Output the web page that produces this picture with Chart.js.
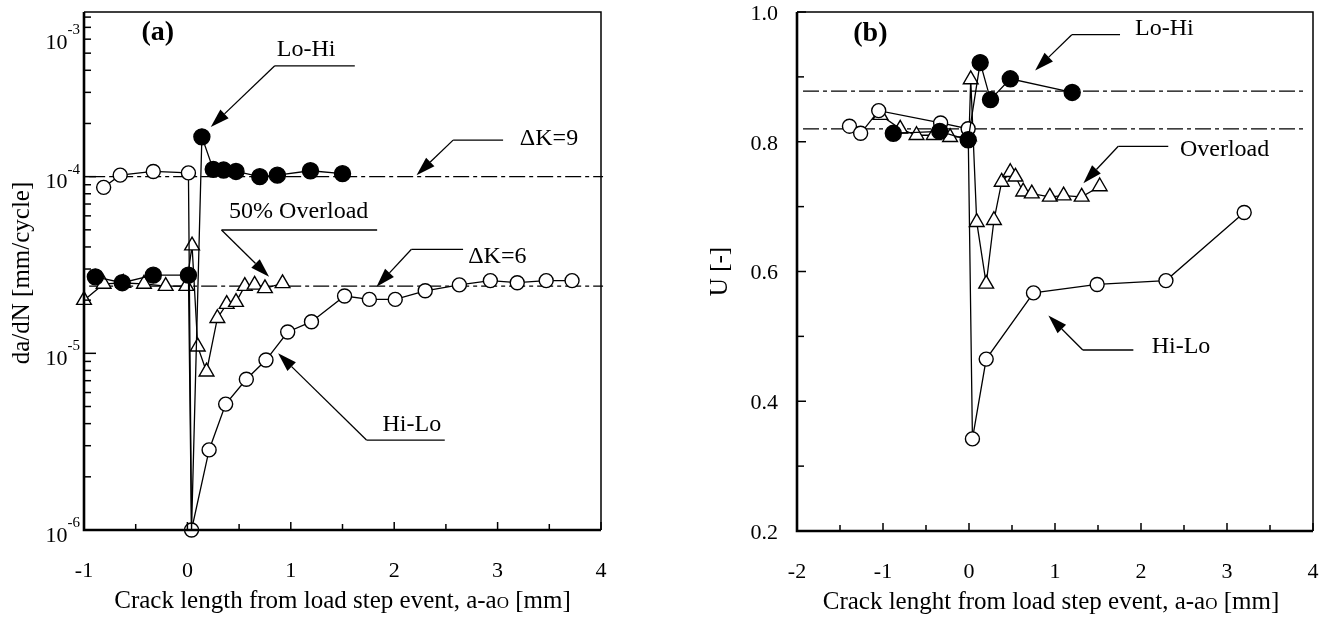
<!DOCTYPE html>
<html>
<head>
<meta charset="utf-8">
<script src="https://cdn.jsdelivr.net/npm/chart.js@4.4.0/dist/chart.umd.min.js"></script>
<style>
html, body { margin: 0; padding: 0; background: #fff; }
#wrap { position: relative; width: 1330px; height: 618px; overflow: hidden; }
canvas { position: absolute; top: 0; }
#ca { left: 0; }
#cb { left: 665px; }
</style>
</head>
<body>
<div id="wrap">
  <canvas id="ca" width="665" height="618"></canvas>
  <canvas id="cb" width="665" height="618"></canvas>
</div>
<script>
// ---- panel (a): da/dN vs crack length ----
var hiLoA_x = [-0.81, -0.65, -0.33, 0.01, 0.04, 0.21, 0.37, 0.57, 0.76, 0.97, 1.20, 1.52, 1.76, 2.01, 2.30, 2.63, 2.93, 3.19, 3.47, 3.72];
var hiLoA_y = [8.7e-5, 1.02e-4, 1.07e-4, 1.05e-4, 1.0e-6, 2.84e-6, 5.16e-6, 7.13e-6, 9.16e-6, 1.32e-5, 1.51e-5, 2.11e-5, 2.02e-5, 2.02e-5, 2.26e-5, 2.44e-5, 2.58e-5, 2.51e-5, 2.58e-5, 2.58e-5];
// the Lo-Hi trace dips to the axis at the step before the peak (no marker there)
var loHiA_x = [-0.89, -0.63, -0.33, 0.01, 0.04, 0.14, 0.25, 0.35, 0.47, 0.70, 0.87, 1.19, 1.50];
var loHiA_y = [2.71e-5, 2.51e-5, 2.77e-5, 2.77e-5, 1.0e-6, 1.68e-4, 1.10e-4, 1.09e-4, 1.07e-4, 1.0e-4, 1.02e-4, 1.08e-4, 1.04e-4];
var overA_x = [-1.0, -0.81, -0.62, -0.42, -0.21, -0.01, 0.045, 0.10, 0.185, 0.29, 0.38, 0.47, 0.555, 0.65, 0.75, 0.92];
var overA_y = [2.0e-5, 2.47e-5, 2.50e-5, 2.47e-5, 2.40e-5, 2.40e-5, 4.07e-5, 1.09e-5, 7.87e-6, 1.58e-5, 1.90e-5, 1.95e-5, 2.40e-5, 2.44e-5, 2.33e-5, 2.49e-5];
var refA_x = [-0.95, 4.02];
var dK9_y = [1.0e-4, 1.0e-4];
var dK6_y = [2.4e-5, 2.4e-5];
var xMajorA = [-1, 0, 1, 2, 3, 4];
var xMinorA = [-0.5, 0.5, 1.5, 2.5, 3.5];
var yExpA = [-6, -5, -4, -3];

// ---- panel (b): U vs crack length ----
var hiLoB_x = [-1.39, -1.26, -1.05, -0.33, -0.01, 0.04, 0.20, 0.75, 1.49, 2.29, 3.20];
var hiLoB_y = [0.824, 0.813, 0.848, 0.829, 0.820, 0.342, 0.465, 0.567, 0.580, 0.586, 0.691];
var loHiB_x = [-0.88, -0.34, -0.01, 0.13, 0.25, 0.48, 1.20];
var loHiB_y = [0.813, 0.816, 0.803, 0.922, 0.865, 0.897, 0.876];
var overB_x = [-1.03, -0.80, -0.61, -0.41, -0.22, 0.00, 0.02, 0.09, 0.20, 0.29, 0.38, 0.48, 0.54, 0.63, 0.73, 0.94, 1.10, 1.31, 1.52];
var overB_y = [0.841, 0.820, 0.810, 0.810, 0.807, 0.808, 0.896, 0.676, 0.581, 0.679, 0.738, 0.753, 0.746, 0.723, 0.720, 0.715, 0.717, 0.715, 0.731];
var refB_x = [-1.93, 3.93];
var refHi_y = [0.878, 0.878];
var refLo_y = [0.820, 0.820];
var xMajorB = [-2, -1, 0, 1, 2, 3, 4];
var xMinorB = [-1.5, -0.5, 0.5, 1.5, 2.5, 3.5];
var yMajorB = [0.2, 0.4, 0.6, 0.8, 1.0];
var yMinorB = [0.3, 0.5, 0.7, 0.9];

var SERIF = '"Liberation Serif", "Times New Roman", serif';

function pts(xs, ys) {
    return xs.map(function (x, i) { return { x: x, y: ys[i] }; });
}

function series(xs, ys, style) {
    return Object.assign({
        data: pts(xs, ys),
        showLine: true,
        borderColor: '#000',
        borderWidth: 1.3,
        pointBorderColor: '#000',
        pointBorderWidth: 1.4,
        tension: 0,
        clip: false
    }, style);
}

var openCircle = { pointStyle: 'circle', pointRadius: 7, pointBackgroundColor: '#fff' };
var fullCircle = { pointStyle: 'circle', pointRadius: 8, pointBackgroundColor: '#000' };
var openTri = { pointStyle: 'triangle', pointRadius: 8.5, pointBackgroundColor: '#fff' };
var dashDot = { borderDash: [16, 4, 4, 4], borderWidth: 1.2, pointRadius: 0 };

// no marker where the Lo-Hi trace touches the axis
var loHiStyle = Object.assign({}, fullCircle, {
    pointRadius: function (c) { return loHiA_y[c.dataIndex] <= 1.0e-6 ? 0 : 8; }
});

function line(ctx, x1, y1, x2, y2) {
    ctx.beginPath(); ctx.moveTo(x1, y1); ctx.lineTo(x2, y2); ctx.stroke();
}

function frame(ctx, a) {
    ctx.strokeStyle = '#000';
    ctx.lineWidth = 1.5;
    ctx.beginPath(); ctx.moveTo(a.left, a.top); ctx.lineTo(a.right, a.top); ctx.lineTo(a.right, a.bottom); ctx.stroke();
    ctx.lineWidth = 2.6;
    ctx.beginPath(); ctx.moveTo(a.left, a.top); ctx.lineTo(a.left, a.bottom); ctx.lineTo(a.right, a.bottom); ctx.stroke();
}

function arrow(ctx, sx, sy, an) {
    var tx = sx.getPixelForValue(an.tip[0]), ty = sy.getPixelForValue(an.tip[1]);
    var ex = sx.getPixelForValue(an.elbow[0]), ey = sy.getPixelForValue(an.elbow[1]);
    var nx = sx.getPixelForValue(an.end[0]);
    ctx.lineWidth = 1.3;
    line(ctx, ex, ey, nx, ey);
    var dx = tx - ex, dy = ty - ey, d = Math.sqrt(dx * dx + dy * dy);
    var ux = dx / d, uy = dy / d, L = 19, W = 6;
    line(ctx, ex, ey, tx - ux * L, ty - uy * L);
    ctx.beginPath();
    ctx.moveTo(tx, ty);
    ctx.lineTo(tx - ux * L - uy * W, ty - uy * L + ux * W);
    ctx.lineTo(tx - ux * L + uy * W, ty - uy * L - ux * W);
    ctx.closePath();
    ctx.fill();
    ctx.font = '24px ' + SERIF;
    ctx.textAlign = 'left';
    ctx.textBaseline = 'middle';
    ctx.fillText(an.text, sx.getPixelForValue(an.at[0]), sy.getPixelForValue(an.at[1]));
}

function xTitle(ctx, cx, y, head) {
    var big = '25px ' + SERIF, small = '17px ' + SERIF;
    ctx.font = big; var w1 = ctx.measureText(head).width, w3 = ctx.measureText(' [mm]').width;
    ctx.font = small; var w2 = ctx.measureText('O').width;
    var x = cx - (w1 + w2 + w3) / 2;
    ctx.textAlign = 'left'; ctx.textBaseline = 'alphabetic';
    ctx.font = big; ctx.fillText(head, x, y);
    ctx.font = small; ctx.fillText('O', x + w1, y);
    ctx.font = big; ctx.fillText(' [mm]', x + w1 + w2, y);
}

function yTitle(ctx, x, y, text) {
    ctx.save();
    ctx.translate(x, y);
    ctx.rotate(-Math.PI / 2);
    ctx.font = '25px ' + SERIF;
    ctx.textAlign = 'center';
    ctx.textBaseline = 'middle';
    ctx.fillText(text, 0, 0);
    ctx.restore();
}

function xTicks(ctx, sx, a, major, minor) {
    ctx.lineWidth = 1.5;
    major.forEach(function (v) { var p = sx.getPixelForValue(v); line(ctx, p, a.bottom, p, a.bottom - 8); });
    minor.forEach(function (v) { var p = sx.getPixelForValue(v); line(ctx, p, a.bottom, p, a.bottom - 6); });
    ctx.font = '22px ' + SERIF;
    ctx.textAlign = 'center';
    ctx.textBaseline = 'middle';
    major.forEach(function (v) { ctx.fillText(String(v), sx.getPixelForValue(v), a.bottom + 41); });
}

function decor(draw) {
    return {
        id: 'decor',
        afterDraw: function (chart) {
            var ctx = chart.ctx;
            ctx.save();
            ctx.fillStyle = '#000';
            ctx.strokeStyle = '#000';
            draw(ctx, chart.scales.x, chart.scales.y, chart.chartArea);
            ctx.restore();
        }
    };
}

var annA = [
    { text: 'Lo-Hi', at: [0.865, 5.2e-4], tip: [0.226, 1.91e-4], elbow: [0.845, 4.24e-4], end: [1.619, 4.24e-4] },
    { text: '\u0394K=9', at: [3.215, 1.65e-4], tip: [2.216, 1.02e-4], elbow: [2.57, 1.61e-4], end: [3.053, 1.61e-4] },
    { text: '50% Overload', at: [0.403, 6.32e-5], tip: [0.79, 2.71e-5], elbow: [0.33, 4.99e-5], end: [1.835, 4.99e-5] },
    { text: '\u0394K=6', at: [2.715, 3.52e-5], tip: [1.829, 2.38e-5], elbow: [2.167, 3.88e-5], end: [2.666, 3.88e-5] },
    { text: 'Hi-Lo', at: [1.887, 3.93e-6], tip: [0.877, 1.0e-5], elbow: [1.732, 3.23e-6], end: [2.489, 3.23e-6] }
];
var annB = [
    { text: 'Lo-Hi', at: [1.93, 0.975], tip: [0.769, 0.910], elbow: [1.195, 0.965], end: [1.756, 0.965] },
    { text: 'Overload', at: [2.453, 0.787], tip: [1.33, 0.736], elbow: [1.736, 0.793], end: [2.317, 0.793] },
    { text: 'Hi-Lo', at: [2.124, 0.484], tip: [0.923, 0.532], elbow: [1.323, 0.479], end: [1.911, 0.479] }
];

var drawA = function (ctx, sx, sy, a) {
    frame(ctx, a);
    xTicks(ctx, sx, a, xMajorA, xMinorA);
    // log ticks on the y axis
    ctx.lineWidth = 1.5;
    yExpA.forEach(function (e) {
        for (var m = 1; m < 10; m++) {
            var v = m * Math.pow(10, e);
            if (v < sy.min * 0.999 || v > sy.max) continue;
            var p = sy.getPixelForValue(v);
            line(ctx, a.left, p, a.left + (m === 1 ? 12 : 7), p);
        }
    });
    yExpA.forEach(function (e) {
        var p = Math.max(sy.getPixelForValue(Math.pow(10, e)), a.top + 25);
        var xr = a.left - 4;
        ctx.textAlign = 'right';
        ctx.textBaseline = 'middle';
        ctx.font = '15px ' + SERIF;
        var sup = String(e), sw = ctx.measureText(sup).width;
        ctx.fillText(sup, xr, p - 7);
        ctx.font = '22px ' + SERIF;
        ctx.fillText('10', xr - sw, p + 6);
    });
    yTitle(ctx, 22, (a.top + a.bottom) / 2 + 2, 'da/dN [mm/cycle]');
    xTitle(ctx, (a.left + a.right) / 2, a.bottom + 78, 'Crack length from load step event, a-a');
    annA.forEach(function (an) { arrow(ctx, sx, sy, an); });
    ctx.font = 'bold 28px ' + SERIF;
    ctx.textAlign = 'center';
    ctx.textBaseline = 'middle';
    ctx.fillText('(a)', sx.getPixelForValue(-0.286), sy.getPixelForValue(6.5e-4));
};

var drawB = function (ctx, sx, sy, a) {
    frame(ctx, a);
    xTicks(ctx, sx, a, xMajorB, xMinorB);
    ctx.lineWidth = 1.5;
    yMajorB.forEach(function (v) { var p = sy.getPixelForValue(v); line(ctx, a.left, p, a.left + 9, p); });
    yMinorB.forEach(function (v) { var p = sy.getPixelForValue(v); line(ctx, a.left, p, a.left + 7, p); });
    ctx.font = '22px ' + SERIF;
    ctx.textAlign = 'right';
    ctx.textBaseline = 'middle';
    yMajorB.forEach(function (v) { ctx.fillText(v.toFixed(1), a.left - 19, sy.getPixelForValue(v) + 2); });
    yTitle(ctx, 55, (a.top + a.bottom) / 2, 'U [-]');
    xTitle(ctx, (a.left + a.right) / 2 - 4, a.bottom + 78, 'Crack lenght from load step event, a-a');
    annB.forEach(function (an) { arrow(ctx, sx, sy, an); });
    ctx.font = 'bold 28px ' + SERIF;
    ctx.textAlign = 'center';
    ctx.textBaseline = 'middle';
    ctx.fillText('(b)', sx.getPixelForValue(-1.147), sy.getPixelForValue(0.967));
};

function baseOptions(xmin, xmax, ytype, ymin, ymax, pad) {
    return {
        responsive: false,
        animation: false,
        devicePixelRatio: 1,
        layout: { padding: pad },
        plugins: { legend: { display: false }, tooltip: { enabled: false } },
        scales: {
            x: { type: 'linear', min: xmin, max: xmax, display: false },
            y: { type: ytype, min: ymin, max: ymax, display: false }
        }
    };
}

new Chart(document.getElementById('ca'), {
    type: 'scatter',
    data: {
        datasets: [
            series(loHiA_x, loHiA_y, loHiStyle),
            series(hiLoA_x, hiLoA_y, openCircle),
            series(overA_x, overA_y, openTri),
            series(refA_x, dK9_y, dashDot),
            series(refA_x, dK6_y, dashDot)
        ]
    },
    options: baseOptions(-1, 4, 'logarithmic', 1e-6, 8.55e-4, { left: 84, right: 64, top: 12, bottom: 88 }),
    plugins: [decor(drawA)]
});

new Chart(document.getElementById('cb'), {
    type: 'scatter',
    data: {
        datasets: [
            series(loHiB_x, loHiB_y, fullCircle),
            series(hiLoB_x, hiLoB_y, openCircle),
            series(overB_x, overB_y, openTri),
            series(refB_x, refHi_y, dashDot),
            series(refB_x, refLo_y, dashDot)
        ]
    },
    options: baseOptions(-2, 4, 'linear', 0.2, 1.0, { left: 132, right: 17, top: 12, bottom: 87 }),
    plugins: [decor(drawB)]
});
</script>
</body>
</html>
